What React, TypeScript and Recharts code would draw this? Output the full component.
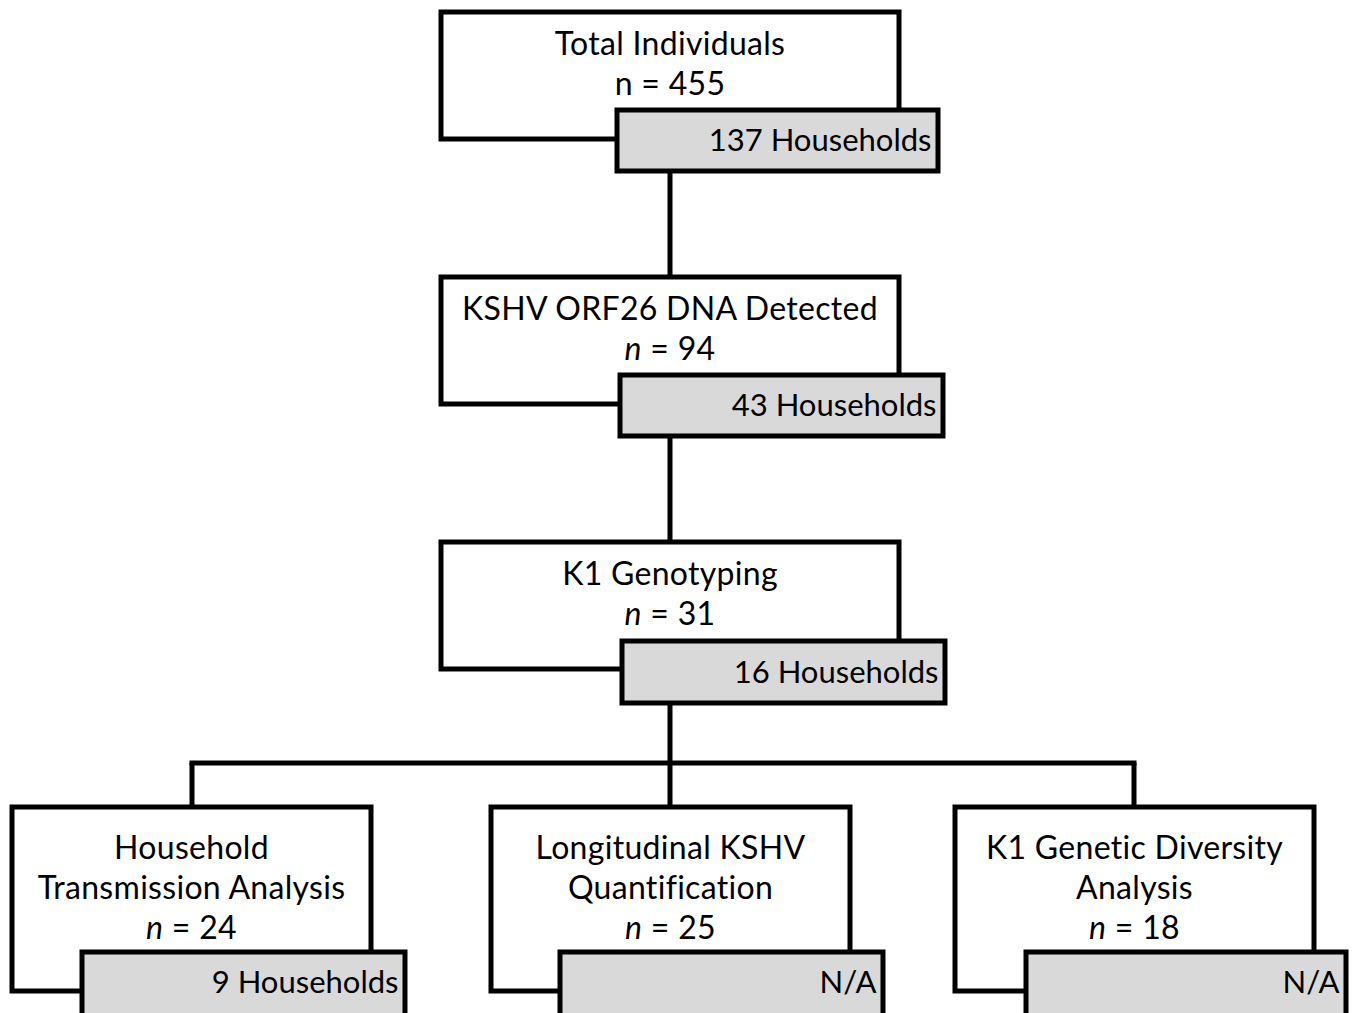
import React from 'react';
import { ScatterChart, Scatter, XAxis, YAxis, ReferenceArea, ReferenceLine } from 'recharts';

// Flowchart content
const stageTitles = [
  ['Total Individuals'],
  ['KSHV ORF26 DNA Detected'],
  ['K1 Genotyping'],
  ['Household', 'Transmission Analysis'],
  ['Longitudinal KSHV', 'Quantification'],
  ['K1 Genetic Diversity', 'Analysis'],
];
const stageCounts = [455, 94, 31, 24, 25, 18];
const countItalic = [false, true, true, true, true, true];
const householdLabels = ['137 Households', '43 Households', '16 Households', '9 Households', 'N/A', 'N/A'];

// Layout, in the chart's own data units (a 1358 x 1013 grid)
const mainBoxX = [[441, 899], [441, 899], [441, 899], [12, 371], [491, 850], [955, 1314]];
const mainBoxY = [[12, 139], [277, 404], [542, 669], [807, 991], [807, 991], [807, 991]];
const tagBoxX = [[617, 938], [620, 943], [622, 945], [82, 405], [560, 883], [1026, 1346]];
const tagBoxY = [[110, 171], [375, 436], [641, 703], [952, 1016], [952, 1016], [952, 1016]];
const titleTop = [43, 308, 573, 847, 847, 847];
const connectors = [
  [[670, 171], [670, 277]],
  [[670, 436], [670, 542]],
  [[670, 703], [670, 807]],
  [[189.5, 763], [1136.5, 763]],
  [[192, 763], [192, 807]],
  [[1134, 763], [1134, 807]],
];

const LINE_GAP = 40;
const STROKE = '#000';
const FONT = 'Lato, "Noto Sans", sans-serif';

type Label = { x: number; y: number; text: string; anchor: 'middle' | 'end'; italicN?: boolean; tag?: boolean };

const labels: Label[] = [];
stageTitles.forEach((lines, i) => {
  const cx = (mainBoxX[i][0] + mainBoxX[i][1]) / 2;
  lines.forEach((t, j) => labels.push({ x: cx, y: titleTop[i] + j * LINE_GAP, text: t, anchor: 'middle' }));
  labels.push({
    x: cx,
    y: titleTop[i] + lines.length * LINE_GAP,
    text: `n = ${stageCounts[i]}`,
    anchor: 'middle',
    italicN: countItalic[i],
  });
  labels.push({
    x: tagBoxX[i][1] - 6.5,
    y: (tagBoxY[i][0] + Math.min(tagBoxY[i][1], 1012)) / 2 - 0.5,
    text: householdLabels[i],
    anchor: 'end',
    tag: true,
  });
});

document.body.style.margin = '0';

const LabelShape = (props: any) => {
  const { cx, cy, payload } = props;
  const common = {
    x: cx,
    y: cy,
    dy: '0.36em',
    textAnchor: payload.anchor,
    fontFamily: FONT,
    fontSize: payload.tag ? 31 : 32,
    letterSpacing: payload.tag ? 0 : 0.3,
    fill: '#000',
  };
  if (payload.text.startsWith('n = ')) {
    return (
      <text {...common}>
        <tspan fontStyle={payload.italicN ? 'italic' : 'normal'}>n</tspan>
        <tspan>{payload.text.slice(1)}</tspan>
      </text>
    );
  }
  return <text {...common}>{payload.text}</text>;
};

export default function App() {
  return (
    <div style={{ width: 1358, height: 1013, background: '#fff' }}>
      <ScatterChart width={1358} height={1013} margin={{ top: 0, right: 0, bottom: 0, left: 0 }}>
        <XAxis type="number" dataKey="x" domain={[0, 1358]} hide />
        <YAxis type="number" dataKey="y" domain={[0, 1013]} reversed hide />
        {connectors.map((seg, i) => (
          <ReferenceLine
            key={`c${i}`}
            segment={[{ x: seg[0][0], y: seg[0][1] }, { x: seg[1][0], y: seg[1][1] }]}
            stroke={STROKE}
            strokeWidth={5}
            ifOverflow="visible"
          />
        ))}
        {mainBoxX.map((bx, i) => (
          <React.Fragment key={`b${i}`}>
            <ReferenceArea
              x1={bx[0]}
              x2={bx[1]}
              y1={mainBoxY[i][0]}
              y2={mainBoxY[i][1]}
              fill="#fff"
              fillOpacity={1}
              stroke={STROKE}
              strokeWidth={5}
              ifOverflow="visible"
            />
            <ReferenceArea
              x1={tagBoxX[i][0]}
              x2={tagBoxX[i][1]}
              y1={tagBoxY[i][0]}
              y2={tagBoxY[i][1]}
              fill="#d9d9d9"
              fillOpacity={1}
              stroke={STROKE}
              strokeWidth={5}
              ifOverflow="visible"
            />
          </React.Fragment>
        ))}
        <Scatter data={labels} shape={LabelShape} isAnimationActive={false} />
      </ScatterChart>
    </div>
  );
}
